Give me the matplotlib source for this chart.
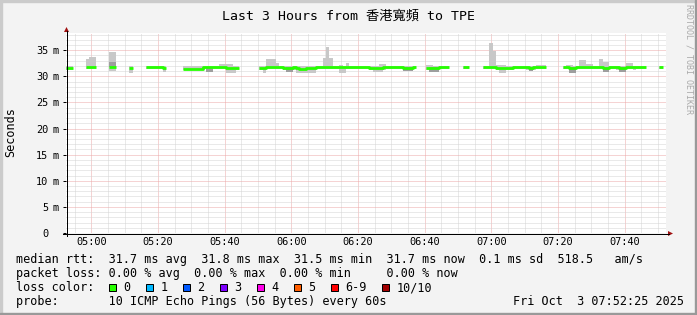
import numpy as np
import matplotlib
matplotlib.use('Agg')
import matplotlib.pyplot as plt
from matplotlib.patches import Rectangle, Polygon
from matplotlib.lines import Line2D
from matplotlib.transforms import blended_transform_factory

W, H = 697, 315
plt.rcParams['font.family'] = ['DejaVu Sans Mono', 'Noto Sans CJK TC']

N = None
# one value per minute, graph starts 04:52:25
graph_start = '04:52:25'
time_labels = ['05:00', '05:20', '05:40', '06:00', '06:20', '06:40', '07:00', '07:20', '07:40']

rtt_median = [
    31.6, 31.6, N, N, N, N, 31.7, 31.7, 31.7, N, N, N, N, 31.7, 31.7, N, N, N, N, 31.6,
    N, N, N, N, 31.8, 31.8, 31.7, 31.7, 31.7, 31.6, N, N, N, N, N, 31.5, 31.5, 31.5, 31.5, 31.5,
    31.5, 31.7, 31.7, 31.7, 31.7, 31.7, 31.7, 31.7, 31.6, 31.6, 31.6, 31.6, N, N, N, N, N, N, 31.6, 31.6,
    31.8, 31.8, 31.8, 31.7, 31.7, 31.6, 31.6, 31.6, 31.7, 31.6, 31.5, 31.5, 31.6, 31.6, 31.6, 31.7, 31.7, 31.7, 31.7, 31.7,
    31.7, 31.7, 31.7, 31.7, 31.7, 31.7, 31.8, 31.8, 31.7, 31.7, 31.7, 31.6, 31.6, 31.6, 31.6, 31.7, 31.7, 31.7, 31.7, 31.7,
    31.7, 31.6, 31.6, 31.6, 31.7, N, N, N, 31.6, 31.6, 31.6, 31.6, 31.7, 31.7, 31.7, N, N, N, N, 31.7,
    31.7, N, N, N, N, 31.7, 31.7, 31.8, 31.7, 31.6, 31.6, 31.6, 31.6, 31.6, 31.7, 31.7, 31.7, 31.7, 31.7, 31.6,
    31.7, 31.7, 31.7, 31.7, N, N, N, N, N, 31.7, 31.7, 31.6, 31.6, 31.7, 31.8, 31.8, 31.7, 31.7, 31.7, 31.7,
    31.7, 31.6, 31.6, 31.7, 31.7, 31.7, 31.6, 31.6, 31.7, 31.7, 31.7, 31.7, 31.7, 31.7, N, N, N, N, 31.7, N,
]
rtt_low = [
    31.2, 31.2, N, N, N, N, 31.4, 31.4, 31.4, N, N, N, N, 31.0, 31.0, N, N, N, N, 30.6,
    N, N, N, N, 31.4, 31.4, 31.4, 31.4, 31.4, 30.8, N, N, N, N, N, 31.3, 31.3, 31.3, 31.3, 31.3,
    31.3, 31.4, 30.8, 30.8, 31.4, 31.4, 31.4, 31.4, 30.6, 30.6, 30.6, 31.3, N, N, N, N, N, N, 31.3, 30.7,
    31.4, 31.4, 31.4, 31.4, 31.4, 31.3, 30.9, 30.9, 31.3, 30.7, 30.7, 30.7, 30.7, 30.7, 30.7, 31.4, 31.4, 31.4, 31.4, 31.4,
    31.4, 31.4, 30.7, 30.7, 31.4, 31.4, 31.4, 31.4, 31.4, 31.4, 31.4, 31.3, 30.8, 30.8, 30.8, 31.3, 31.4, 31.4, 31.4, 31.4,
    31.4, 31.0, 31.0, 31.0, 31.4, N, N, N, 31.3, 30.9, 30.9, 30.9, 31.4, 31.4, 31.4, N, N, N, N, 31.4,
    31.4, N, N, N, N, 31.4, 31.4, 31.4, 31.4, 31.3, 30.6, 30.6, 31.3, 31.3, 31.4, 31.4, 31.4, 31.4, 31.3, 31.0,
    31.3, 31.4, 31.4, 31.4, N, N, N, N, N, 31.4, 31.4, 30.6, 30.6, 31.4, 31.4, 31.4, 31.4, 31.4, 31.4, 31.4,
    31.4, 30.8, 30.8, 31.4, 31.4, 31.3, 30.8, 30.8, 31.4, 31.4, 31.2, 31.4, 31.4, 31.4, N, N, N, N, 31.4, N,
]
rtt_high = [
    31.9, 31.9, N, N, N, N, 33.3, 33.7, 33.7, N, N, N, N, 34.7, 34.7, N, N, N, N, 31.9,
    N, N, N, N, 32.0, 32.0, 32.0, 32.0, 31.9, 31.9, N, N, N, N, N, 32.0, 32.0, 32.0, 32.0, 32.0,
    31.9, 31.9, 31.9, 31.9, 31.9, 31.9, 32.4, 32.4, 32.4, 32.4, 31.9, 31.9, N, N, N, N, N, N, 31.9, 31.9,
    33.3, 33.3, 33.3, 32.6, 31.9, 31.9, 31.9, 31.9, 31.9, 31.9, 31.9, 31.9, 31.9, 31.9, 31.9, 31.9, 31.9, 33.5, 35.7, 33.5,
    31.9, 31.9, 32.2, 31.9, 32.5, 31.9, 32.0, 32.0, 31.9, 31.9, 31.9, 31.9, 31.9, 31.9, 32.4, 32.4, 31.9, 31.9, 31.9, 32.0,
    32.0, 32.0, 32.0, 32.0, 32.0, N, N, N, 32.2, 32.2, 32.0, 31.9, 31.9, 31.9, 31.9, N, N, N, N, 31.9,
    31.9, N, N, N, N, 31.9, 32.0, 36.3, 34.8, 32.2, 32.2, 32.2, 31.9, 31.9, 32.0, 31.9, 31.9, 31.9, 31.9, 31.9,
    31.9, 32.2, 32.2, 32.2, N, N, N, N, N, 31.9, 32.2, 32.2, 31.9, 31.9, 33.1, 33.1, 32.4, 32.4, 31.9, 31.9,
    33.4, 32.7, 32.7, 31.9, 31.9, 31.9, 31.9, 31.9, 32.6, 32.6, 31.9, 31.9, 31.9, 31.9, N, N, N, N, 31.9, N,
]
# denser smoke: (first minute, last minute, low, high)
dark_smoke = [(13, 14, 31.7, 32.8), (42, 43, 30.8, 31.7), (66, 67, 30.9, 31.7),
              (101, 103, 31.0, 31.7), (109, 111, 30.9, 31.7), (139, 139, 31.0, 31.7),
              (151, 152, 30.6, 31.7), (161, 162, 30.8, 31.7), (166, 167, 30.8, 31.7)]

y_ticks = [0, 5, 10, 15, 20, 25, 30, 35]
y_max = 38.3

loss_labels = ['0', '1', '2', '3', '4', '5', '6-9', '10/10']
loss_colors = ['#26ff00', '#00b8ff', '#0059ff', '#7e00ff', '#ff00ea', '#ff5e00', '#ff0000', '#a10000']

title = 'Last 3 Hours from 香港寬頻 to TPE'
legend_rtt = 'median rtt:  31.7 ms avg  31.8 ms max  31.5 ms min  31.7 ms now  0.1 ms sd  518.5   am/s'
legend_loss = 'packet loss: 0.00 % avg  0.00 % max  0.00 % min     0.00 % now'
legend_probe = 'probe:       10 ICMP Echo Pings (56 Bytes) every 60s'
stamp = 'Fri Oct  3 07:52:25 2025'


def fx(x):
    return x / W


def fy(y):
    return 1 - y / H


def minutes(label):
    parts = [int(p) for p in label.split(':')] + [0]
    h0, m0, s0 = [int(p) for p in graph_start.split(':')]
    return parts[0] * 60 + parts[1] + parts[2] / 60 - (h0 * 60 + m0 + s0 / 60)


fig = plt.figure(figsize=(W / 100, H / 100), dpi=100, facecolor='#F3F3F3')
ax = fig.add_axes([66 / W, 1 - 233 / H, 600 / W, 200 / H])
ax.set_facecolor('white')
ax.set_xlim(0, 180)
ax.set_ylim(0, y_max)

n = len(rtt_median)
t = np.arange(n)
xs = np.column_stack([t, t + 1]).ravel()
med = np.repeat(np.array(rtt_median, dtype=float), 2)
lo = np.repeat(np.array(rtt_low, dtype=float), 2)
hi = np.repeat(np.array(rtt_high, dtype=float), 2)

ax.fill_between(xs, lo, hi, color='#C8C8C8', lw=0, zorder=2)
for a, b, l, h in dark_smoke:
    ax.fill_between([a, b + 1], l, h, color='#9E9E9E', lw=0, zorder=3)
ax.plot(xs, med, color=loss_colors[0], lw=2.0, solid_capstyle='butt', zorder=4)

# grid
major_x = [minutes(s) for s in time_labels]
minor_x = [m for m in np.arange(minutes('04:55'), 180, 5) if min(abs(m - v) for v in major_x) > 0.5]
ax.set_xticks(major_x, labels=time_labels, fontsize=7.4)
ax.set_xticks(minor_x, minor=True)
ax.set_yticks(y_ticks, labels=[])
ax.set_yticks([v for v in range(1, 39) if v % 5], minor=True)
ax.grid(which='minor', color='#D4D4D4', ls=(0, (1, 1)), lw=0.72)
ax.grid(which='major', color='#ECA8A8', ls=(0, (1, 1)), lw=0.72)
ax.set_axisbelow(True)
ax.tick_params(which='minor', length=0)
ax.tick_params(axis='x', which='major', length=0, pad=3.0)
ax.tick_params(axis='y', which='major', length=2.2, width=0.72, color='black')
for s in ax.spines.values():
    s.set_visible(False)

trans = blended_transform_factory(fig.transFigure, ax.transData)
for v in y_ticks:
    fig.text(fx(48.5), v, str(v), transform=trans, ha='right', va='center_baseline', fontsize=7.4)
    if v:
        fig.text(fx(52.5), v, 'm', transform=trans, ha='left', va='center_baseline', fontsize=7.4)

# axes lines and arrows
fig.add_artist(Line2D([fx(66.5), fx(66.5)], [fy(236), fy(31)], color='black', lw=0.72))
fig.add_artist(Line2D([fx(63), fx(669)], [fy(233.5), fy(233.5)], color='black', lw=0.72))
fig.add_artist(Polygon([(fx(64), fy(32)), (fx(69), fy(32)), (fx(66.5), fy(27))],
                       closed=True, facecolor='#A01010', edgecolor='none'))
fig.add_artist(Polygon([(fx(668), fy(231)), (fx(668), fy(236)), (fx(673), fy(233.5))],
                       closed=True, facecolor='#A01010', edgecolor='none'))

# frame shading
fig.add_artist(Rectangle((0, fy(2)), 1, 2 / H, transform=fig.transFigure, color='#CBCBCB'))
fig.add_artist(Rectangle((0, 0), 2 / W, 1, transform=fig.transFigure, color='#CBCBCB'))
fig.add_artist(Rectangle((0, 0), 1, 2 / H, transform=fig.transFigure, color='#999999'))
fig.add_artist(Rectangle((fx(W - 2), 0), 2 / W, 1, transform=fig.transFigure, color='#999999'))

# texts
fig.text(fx(348), fy(19.3), title, ha='center', va='baseline', fontsize=9.5)
fig.text(fx(10.5), fy(131.7), 'Seconds', rotation=90, ha='center', va='center', fontsize=8.5)
fig.text(fx(688.5), fy(59), 'RRDTOOL / TOBI OETIKER', rotation=270, ha='center', va='center',
         fontsize=6.0, color='#AAAAAA')

fig.text(fx(16), fy(263.3), legend_rtt, va='baseline', fontsize=8.5)
fig.text(fx(16), fy(277.3), legend_loss, va='baseline', fontsize=8.5)
fig.text(fx(16), fy(291.3), 'loss color:', va='baseline', fontsize=8.5)
fig.text(fx(16), fy(305.3), legend_probe, va='baseline', fontsize=8.5)
fig.text(fx(513.3), fy(305.3), stamp, va='baseline', fontsize=8.5)

bx = 108.5
for lab, col in zip(loss_labels, loss_colors):
    fig.add_artist(Rectangle((fx(bx + 0.5), fy(290.5)), 7 / W, 7 / H, transform=fig.transFigure,
                             facecolor=col, edgecolor='black', lw=0.72))
    fig.text(fx(bx + 15), fy(291.3), lab, va='baseline', fontsize=8.5)
    bx += 36.95 + (len(lab) - 1) * 7.1

fig.savefig('out.png', dpi=100, facecolor=fig.get_facecolor())
